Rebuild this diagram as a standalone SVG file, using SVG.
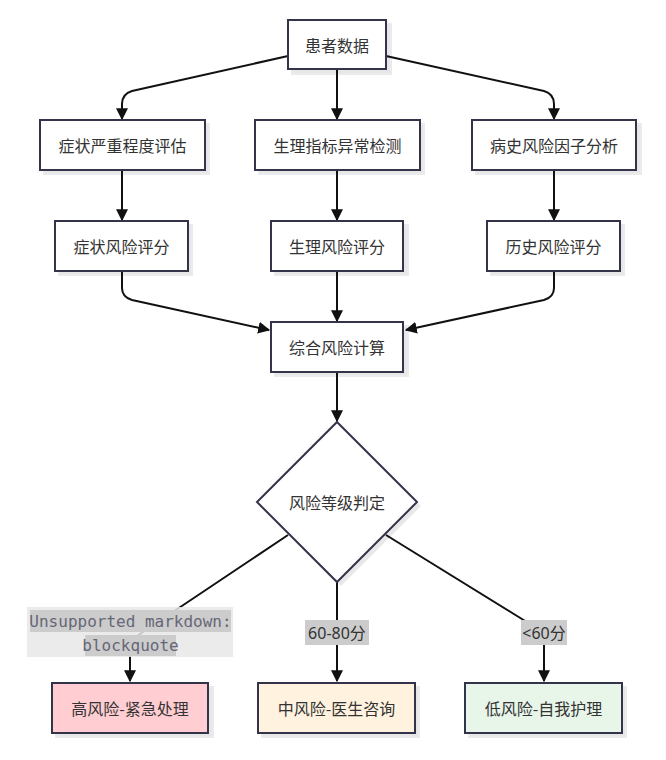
<svg xmlns="http://www.w3.org/2000/svg" width="666" height="760" viewBox="0 0 666 760">
<style>
.node rect, .node polygon.shape { stroke: #33334a; stroke-width: 2; }
.shadow { fill: #000; opacity: 0.09; }
.t { font-family: "Noto Sans CJK SC", "Noto Sans", sans-serif; font-size: 16px; fill: #333; text-anchor: middle; dominant-baseline: central; }
.edge { fill: none; stroke: #111; stroke-width: 2; }
.lbl { fill: #cccccc; }
.lt { font-family: "Noto Sans", "Noto Sans CJK SC", sans-serif; font-size: 16px; fill: #333; text-anchor: middle; dominant-baseline: central; }
.mono { font-family: "DejaVu Sans Mono", monospace; font-size: 16px; fill: #666677; text-anchor: middle; dominant-baseline: central; }
</style>
<defs>
<marker id="arr" viewBox="0 0 10 10" refX="9" refY="5" markerWidth="12" markerHeight="12" markerUnits="userSpaceOnUse" orient="auto">
<path d="M0,0 L10,5 L0,10 z" fill="#111"/>
</marker>
</defs>
<rect width="666" height="760" fill="#fff"/>
<g id="connectors">
<path class="edge" d="M288,56 L132,91 Q122,94 122,104 L122,119" marker-end="url(#arr)"/>
<path class="edge" d="M337,69 L337,119" marker-end="url(#arr)"/>
<path class="edge" d="M386,56 L544,91 Q554,94 554,104 L554,119" marker-end="url(#arr)"/>
<path class="edge" d="M122,170 L122,220" marker-end="url(#arr)"/>
<path class="edge" d="M337,170 L337,220" marker-end="url(#arr)"/>
<path class="edge" d="M554,170 L554,220" marker-end="url(#arr)"/>
<path class="edge" d="M122,271 L122,288 Q122,297 132,300 L269,330" marker-end="url(#arr)"/>
<path class="edge" d="M337,271 L337,321" marker-end="url(#arr)"/>
<path class="edge" d="M554,271 L554,288 Q554,297 544,300 L406,330" marker-end="url(#arr)"/>
<path class="edge" d="M337,372 L337,421" marker-end="url(#arr)"/>
<path class="edge" d="M288,535 L137,636 Q130,641 130,650 L130,681" marker-end="url(#arr)"/>
<path class="edge" d="M337,582 L337,681" marker-end="url(#arr)"/>
<path class="edge" d="M386,535 L530,624 Q544,632 544,642 L544,681" marker-end="url(#arr)"/>
</g>
<g id="edge-labels">
<g id="label-high">
<rect x="27" y="607" width="206" height="50" fill="#e8e8e8" opacity="0.85"/>
<rect x="30" y="610" width="201" height="22" class="lbl"/>
<rect x="85" y="635" width="91" height="21" class="lbl"/>
<text class="mono" x="130.5" y="621">Unsupported markdown:</text>
<text class="mono" x="130.5" y="645.5">blockquote</text>
</g>
<g id="label-mid">
<rect x="305" y="620" width="64" height="25" class="lbl"/>
<text class="lt" x="337" y="632.5">60-80分</text>
</g>
<g id="label-low">
<rect x="521" y="620" width="46" height="25" class="lbl"/>
<text class="lt" x="544" y="632.5">&lt;60分</text>
</g>
</g>
<g id="n-data" class="node">
<rect class="shadow" x="292" y="24" width="99" height="50"/>
<rect x="288" y="20" width="98" height="49" fill="#fff"/>
<text class="t" x="337" y="44.5">患者数据</text>
</g>
<g id="n-sym" class="node">
<rect class="shadow" x="44" y="124" width="165" height="50"/>
<rect x="40" y="120" width="165" height="50" fill="#fff"/>
<text class="t" x="122.5" y="145">症状严重程度评估</text>
</g>
<g id="n-phys" class="node">
<rect class="shadow" x="259" y="124" width="165" height="50"/>
<rect x="255" y="120" width="165" height="50" fill="#fff"/>
<text class="t" x="337.5" y="145">生理指标异常检测</text>
</g>
<g id="n-hist" class="node">
<rect class="shadow" x="476" y="124" width="165" height="50"/>
<rect x="472" y="120" width="164" height="50" fill="#fff"/>
<text class="t" x="554" y="145">病史风险因子分析</text>
</g>
<g id="n-symscore" class="node">
<rect class="shadow" x="59" y="225" width="133" height="50"/>
<rect x="55" y="221" width="133" height="50" fill="#fff"/>
<text class="t" x="121.5" y="246">症状风险评分</text>
</g>
<g id="n-physscore" class="node">
<rect class="shadow" x="275" y="225" width="133" height="50"/>
<rect x="271" y="221" width="132" height="50" fill="#fff"/>
<text class="t" x="337" y="246">生理风险评分</text>
</g>
<g id="n-histscore" class="node">
<rect class="shadow" x="491" y="225" width="133" height="50"/>
<rect x="487" y="221" width="133" height="50" fill="#fff"/>
<text class="t" x="553.5" y="246">历史风险评分</text>
</g>
<g id="n-total" class="node">
<rect class="shadow" x="275" y="326" width="133" height="50"/>
<rect x="271" y="322" width="132" height="50" fill="#fff"/>
<text class="t" x="337" y="347">综合风险计算</text>
</g>
<g id="n-level" class="node">
<polygon class="shadow" points="341,426 421,506 341,586 261,506"/>
<polygon class="shape" points="337,422 417,502 337,582 257,502" fill="#fff"/>
<text class="t" x="337" y="502">风险等级判定</text>
</g>
<g id="n-high" class="node">
<rect class="shadow" x="56" y="687" width="157" height="50"/>
<rect x="52" y="683" width="156" height="50" fill="#ffcdd2"/>
<text class="t" x="130" y="708">高风险-紧急处理</text>
</g>
<g id="n-mid" class="node">
<rect class="shadow" x="262" y="687" width="157" height="50"/>
<rect x="258" y="683" width="157" height="50" fill="#fff3e0"/>
<text class="t" x="336.5" y="708">中风险-医生咨询</text>
</g>
<g id="n-low" class="node">
<rect class="shadow" x="469" y="687" width="157" height="50"/>
<rect x="465" y="683" width="157" height="50" fill="#e8f5e9"/>
<text class="t" x="543.5" y="708">低风险-自我护理</text>
</g>
</svg>
